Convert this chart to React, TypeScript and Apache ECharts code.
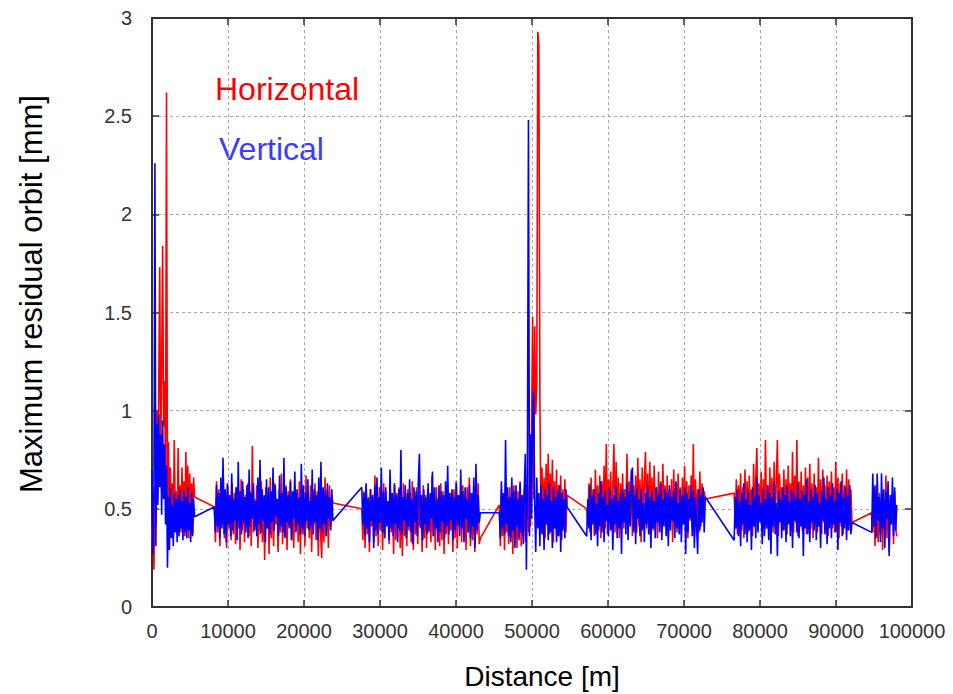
import { useEffect, useRef } from "react";
import * as echarts from "echarts";

// Distance ranges (m) covered by each group of monitors
const segStart = [0, 8200, 27600, 45700, 57200, 76600, 94700];
const segEnd = [5600, 23800, 43200, 54600, 72800, 92100, 98000];

// Horizontal (red) maximum residual orbit [mm], per group
const h1 = [0.34, 0.52, 0.19, 0.62, 0.41, 1.0, 0.55, 1.12, 1.73, 0.78, 1.21, 1.84, 0.92, 1.15, 0.68, 2.62, 0.45, 0.84, 0.39, 0.71, 0.42, 0.63, 0.36, 0.85, 0.48, 0.59, 0.37, 0.81, 0.44, 0.62, 0.38, 0.71, 0.42, 0.64, 0.36, 0.79, 0.47, 0.72, 0.35, 0.68, 0.41, 0.63, 0.37, 0.66, 0.56];
const h2 = [0.51, 0.33, 0.64, 0.38, 0.6, 0.31, 0.57, 0.42, 0.66, 0.35, 0.59, 0.3, 0.62, 0.4, 0.55, 0.34, 0.63, 0.37, 0.58, 0.32, 0.61, 0.44, 0.56, 0.29, 0.65, 0.39, 0.6, 0.33, 0.57, 0.41, 0.63, 0.36, 0.59, 0.31, 0.82, 0.38, 0.55, 0.43, 0.62, 0.3, 0.58, 0.37, 0.64, 0.33, 0.56, 0.24, 0.61, 0.4, 0.57, 0.27, 0.66, 0.35, 0.59, 0.31, 0.63, 0.42, 0.55, 0.28, 0.6, 0.38, 0.68, 0.32, 0.57, 0.36, 0.62, 0.29, 0.59, 0.41, 0.65, 0.34, 0.56, 0.3, 0.61, 0.39, 0.58, 0.33, 0.64, 0.27, 0.6, 0.37, 0.55, 0.31, 0.67, 0.4, 0.58, 0.35, 0.62, 0.28, 0.57, 0.42, 0.63, 0.34, 0.59, 0.26, 0.61, 0.38, 0.25, 0.56, 0.33, 0.66, 0.36, 0.6, 0.3, 0.62, 0.41, 0.57, 0.53];
const h3 = [0.5, 0.34, 0.59, 0.3, 0.62, 0.37, 0.56, 0.28, 0.6, 0.41, 0.55, 0.33, 0.67, 0.36, 0.58, 0.31, 0.61, 0.39, 0.57, 0.29, 0.63, 0.35, 0.59, 0.42, 0.54, 0.32, 0.6, 0.38, 0.56, 0.27, 0.62, 0.34, 0.58, 0.4, 0.61, 0.3, 0.57, 0.26, 0.63, 0.36, 0.55, 0.31, 0.6, 0.39, 0.58, 0.33, 0.64, 0.29, 0.56, 0.37, 0.61, 0.32, 0.59, 0.41, 0.55, 0.28, 0.62, 0.35, 0.57, 0.3, 0.6, 0.38, 0.54, 0.33, 0.67, 0.36, 0.58, 0.29, 0.61, 0.4, 0.56, 0.31, 0.63, 0.34, 0.59, 0.27, 0.57, 0.37, 0.62, 0.32, 0.58, 0.39, 0.55, 0.28, 0.6, 0.35, 0.64, 0.3, 0.57, 0.41, 0.59, 0.33, 0.62, 0.36, 0.56, 0.29, 0.61, 0.38, 0.66, 0.31, 0.58, 0.34, 0.6, 0.28, 0.57, 0.37, 0.63, 0.32, 0.35];
const h4 = [0.52, 0.31, 0.6, 0.36, 0.57, 0.29, 0.63, 0.38, 0.55, 0.32, 0.61, 0.35, 0.58, 0.27, 0.62, 0.37, 0.56, 0.3, 0.59, 0.34, 0.64, 0.31, 0.57, 0.36, 0.6, 0.33, 0.45, 0.62, 0.38, 0.7, 0.41, 0.92, 1.48, 0.55, 1.43, 0.98, 1.13, 2.93, 2.86, 1.05, 0.46, 0.71, 0.39, 0.66, 0.35, 0.73, 0.42, 0.78, 0.37, 0.68, 0.44, 0.75, 0.33, 0.64, 0.4, 0.7, 0.36, 0.62, 0.43, 0.67, 0.34, 0.6, 0.41, 0.65, 0.38, 0.57];
const h5 = [0.5, 0.42, 0.63, 0.38, 0.66, 0.45, 0.6, 0.36, 0.7, 0.43, 0.62, 0.39, 0.67, 0.35, 0.64, 0.44, 0.72, 0.4, 0.83, 0.37, 0.65, 0.46, 0.69, 0.41, 0.61, 0.83, 0.38, 0.74, 0.43, 0.66, 0.35, 0.63, 0.45, 0.68, 0.4, 0.6, 0.47, 0.78, 0.39, 0.64, 0.42, 0.7, 0.36, 0.62, 0.44, 0.67, 0.38, 0.76, 0.41, 0.65, 0.33, 0.71, 0.45, 0.63, 0.79, 0.4, 0.68, 0.37, 0.74, 0.43, 0.66, 0.39, 0.72, 0.46, 0.61, 0.35, 0.69, 0.42, 0.64, 0.38, 0.73, 0.44, 0.62, 0.4, 0.67, 0.36, 0.6, 0.45, 0.65, 0.33, 0.7, 0.41, 0.63, 0.38, 0.68, 0.43, 0.61, 0.37, 0.66, 0.42, 0.72, 0.39, 0.64, 0.35, 0.62, 0.44, 0.67, 0.4, 0.83, 0.36, 0.65, 0.43, 0.6, 0.38, 0.69, 0.41, 0.63, 0.46, 0.59, 0.55];
const h6 = [0.58, 0.4, 0.65, 0.37, 0.62, 0.44, 0.68, 0.39, 0.61, 0.35, 0.7, 0.42, 0.64, 0.38, 0.67, 0.45, 0.6, 0.36, 0.73, 0.41, 0.66, 0.81, 0.39, 0.63, 0.44, 0.69, 0.37, 0.65, 0.42, 0.85, 0.4, 0.62, 0.35, 0.71, 0.43, 0.66, 0.38, 0.74, 0.41, 0.64, 0.85, 0.36, 0.68, 0.44, 0.61, 0.39, 0.7, 0.42, 0.65, 0.37, 0.72, 0.45, 0.63, 0.4, 0.79, 0.38, 0.67, 0.43, 0.85, 0.36, 0.64, 0.41, 0.69, 0.39, 0.62, 0.44, 0.71, 0.37, 0.66, 0.42, 0.73, 0.4, 0.63, 0.35, 0.68, 0.45, 0.61, 0.38, 0.76, 0.41, 0.65, 0.37, 0.7, 0.43, 0.62, 0.39, 0.67, 0.36, 0.64, 0.44, 0.69, 0.4, 0.61, 0.38, 0.74, 0.42, 0.66, 0.35, 0.63, 0.41, 0.68, 0.37, 0.62, 0.43, 0.7, 0.39, 0.65, 0.42, 0.6, 0.43];
const h7 = [0.48, 0.38, 0.61, 0.31, 0.56, 0.42, 0.33, 0.58, 0.37, 0.5, 0.29, 0.55, 0.4, 0.67, 0.35, 0.6, 0.28, 0.54, 0.43, 0.57, 0.32, 0.59, 0.4, 0.36];

// Vertical (blue) maximum residual orbit [mm], per group
const v1 = [0.7, 0.27, 0.58, 2.26, 0.31, 0.93, 0.52, 0.98, 0.61, 0.88, 0.47, 0.95, 0.55, 0.83, 0.42, 0.72, 0.2, 0.56, 0.29, 0.61, 0.35, 0.52, 0.31, 0.58, 0.38, 0.55, 0.33, 0.57, 0.36, 0.6, 0.4, 0.54, 0.34, 0.59, 0.38, 0.56, 0.35, 0.61, 0.39, 0.53, 0.33, 0.58, 0.36, 0.55, 0.46];
const v2 = [0.51, 0.38, 0.62, 0.41, 0.58, 0.35, 0.66, 0.4, 0.76, 0.37, 0.6, 0.33, 0.63, 0.42, 0.57, 0.36, 0.68, 0.39, 0.55, 0.44, 0.61, 0.34, 0.74, 0.4, 0.59, 0.37, 0.64, 0.43, 0.56, 0.38, 0.62, 0.35, 0.7, 0.41, 0.58, 0.45, 0.63, 0.39, 0.54, 0.36, 0.66, 0.42, 0.75, 0.38, 0.6, 0.44, 0.57, 0.33, 0.65, 0.4, 0.61, 0.37, 0.59, 0.43, 0.71, 0.39, 0.62, 0.46, 0.55, 0.36, 0.67, 0.41, 0.58, 0.38, 0.76, 0.35, 0.61, 0.43, 0.57, 0.4, 0.64, 0.34, 0.59, 0.45, 0.69, 0.38, 0.6, 0.42, 0.56, 0.37, 0.73, 0.4, 0.62, 0.36, 0.58, 0.44, 0.65, 0.39, 0.54, 0.41, 0.7, 0.37, 0.6, 0.43, 0.57, 0.34, 0.66, 0.4, 0.74, 0.38, 0.61, 0.42, 0.59, 0.36, 0.63, 0.45, 0.56, 0.39, 0.6, 0.44];
const v3 = [0.61, 0.42, 0.58, 0.36, 0.63, 0.4, 0.55, 0.33, 0.6, 0.44, 0.57, 0.3, 0.62, 0.39, 0.66, 0.37, 0.56, 0.43, 0.71, 0.38, 0.59, 0.35, 0.61, 0.41, 0.54, 0.34, 0.7, 0.4, 0.58, 0.36, 0.63, 0.42, 0.57, 0.33, 0.6, 0.39, 0.8, 0.37, 0.56, 0.44, 0.62, 0.35, 0.58, 0.41, 0.65, 0.38, 0.55, 0.32, 0.61, 0.43, 0.59, 0.36, 0.64, 0.78, 0.4, 0.57, 0.34, 0.6, 0.42, 0.56, 0.37, 0.63, 0.39, 0.58, 0.45, 0.69, 0.36, 0.61, 0.4, 0.55, 0.33, 0.62, 0.38, 0.59, 0.43, 0.57, 0.35, 0.64, 0.41, 0.72, 0.37, 0.58, 0.44, 0.6, 0.34, 0.56, 0.39, 0.63, 0.42, 0.57, 0.36, 0.7, 0.4, 0.59, 0.33, 0.61, 0.45, 0.55, 0.38, 0.62, 0.35, 0.58, 0.41, 0.66, 0.3, 0.73, 0.39, 0.57, 0.43, 0.48];
const v4 = [0.48, 0.35, 0.64, 0.4, 0.58, 0.37, 0.85, 0.42, 0.61, 0.36, 0.56, 0.33, 0.66, 0.39, 0.59, 0.3, 0.62, 0.41, 0.55, 0.35, 0.63, 0.38, 0.57, 0.32, 0.6, 0.78, 0.19, 0.7, 2.48, 0.36, 0.88, 0.45, 0.96, 1.1, 0.52, 0.28, 0.66, 0.4, 0.58, 0.31, 0.62, 0.37, 0.55, 0.29, 0.6, 0.42, 0.57, 0.34, 0.63, 0.38, 0.54, 0.3, 0.61, 0.4, 0.56, 0.33, 0.59, 0.36, 0.62, 0.28, 0.58, 0.39, 0.55, 0.35, 0.6, 0.51];
const v5 = [0.36, 0.55, 0.4, 0.62, 0.34, 0.57, 0.42, 0.6, 0.37, 0.53, 0.31, 0.58, 0.41, 0.64, 0.38, 0.56, 0.33, 0.59, 0.44, 0.52, 0.36, 0.61, 0.39, 0.55, 0.29, 0.57, 0.42, 0.62, 0.35, 0.54, 0.4, 0.58, 0.27, 0.6, 0.43, 0.56, 0.37, 0.63, 0.34, 0.59, 0.41, 0.66, 0.71, 0.38, 0.57, 0.32, 0.61, 0.45, 0.55, 0.36, 0.6, 0.39, 0.53, 0.33, 0.58, 0.42, 0.62, 0.37, 0.56, 0.3, 0.59, 0.4, 0.54, 0.35, 0.61, 0.43, 0.57, 0.38, 0.63, 0.34, 0.55, 0.41, 0.6, 0.36, 0.58, 0.31, 0.62, 0.39, 0.56, 0.44, 0.59, 0.35, 0.64, 0.4, 0.53, 0.37, 0.6, 0.33, 0.57, 0.42, 0.61, 0.27, 0.58, 0.38, 0.55, 0.45, 0.62, 0.36, 0.59, 0.3, 0.56, 0.41, 0.27, 0.6, 0.39, 0.57, 0.43, 0.61, 0.38, 0.56];
const v6 = [0.34, 0.56, 0.4, 0.6, 0.36, 0.54, 0.31, 0.58, 0.42, 0.63, 0.37, 0.55, 0.33, 0.59, 0.39, 0.52, 0.29, 0.61, 0.41, 0.56, 0.35, 0.66, 0.38, 0.57, 0.43, 0.53, 0.32, 0.6, 0.36, 0.55, 0.4, 0.62, 0.34, 0.58, 0.27, 0.56, 0.41, 0.64, 0.37, 0.53, 0.26, 0.59, 0.43, 0.55, 0.35, 0.61, 0.39, 0.57, 0.33, 0.62, 0.42, 0.54, 0.36, 0.6, 0.3, 0.58, 0.44, 0.56, 0.38, 0.63, 0.35, 0.55, 0.41, 0.59, 0.26, 0.57, 0.4, 0.65, 0.37, 0.54, 0.33, 0.6, 0.43, 0.56, 0.39, 0.62, 0.34, 0.58, 0.41, 0.53, 0.3, 0.59, 0.44, 0.66, 0.37, 0.55, 0.32, 0.61, 0.4, 0.57, 0.35, 0.63, 0.42, 0.54, 0.38, 0.6, 0.29, 0.58, 0.43, 0.64, 0.36, 0.56, 0.4, 0.61, 0.34, 0.57, 0.39, 0.62, 0.37, 0.43];
const v7 = [0.38, 0.68, 0.41, 0.62, 0.35, 0.68, 0.44, 0.56, 0.33, 0.68, 0.4, 0.6, 0.3, 0.59, 0.45, 0.64, 0.26, 0.57, 0.42, 0.66, 0.36, 0.61, 0.39, 0.52];

const hGroups = [h1, h2, h3, h4, h5, h6, h7];
const vGroups = [v1, v2, v3, v4, v5, v6, v7];

function toPoints(groups: number[][]): [number, number][] {
  const out: [number, number][] = [];
  groups.forEach((vals, g) => {
    const a = segStart[g];
    const b = segEnd[g];
    const n = vals.length;
    vals.forEach((v, i) => {
      out.push([Math.round(a + ((b - a) * i) / (n - 1)), v]);
    });
  });
  return out;
}

const FONT = "'Liberation Sans', Arial, Helvetica, sans-serif";
const AXIS = "#333";

export default function App() {
  const ref = useRef<HTMLDivElement>(null);
  useEffect(() => {
    if (!ref.current) return;
    const chart = echarts.init(ref.current, undefined, { renderer: "svg" });
    const axisLine = { show: true, onZero: false, lineStyle: { color: AXIS, width: 2 } };
    const axisTick = { show: true, inside: true, length: 7, lineStyle: { color: AXIS, width: 1.5 } };
    const split = { show: true, lineStyle: { color: "#a8a8a8", type: [3, 3], width: 1 } };
    chart.setOption({
      animation: false,
      backgroundColor: "#ffffff",
      textStyle: { fontFamily: FONT },
      grid: { left: 152, right: 41, top: 18, bottom: 87 },
      xAxis: [
        {
          type: "value",
          position: "bottom",
          min: 0,
          max: 100000,
          interval: 10000,
          axisLine,
          axisTick,
          axisLabel: { fontSize: 20, color: AXIS, margin: 14, fontFamily: FONT, formatter: (v: number) => String(v) },
          splitLine: split,
        },
        {
          type: "value",
          position: "top",
          min: 0,
          max: 100000,
          interval: 10000,
          axisLine,
          axisTick,
          axisLabel: { show: false },
          splitLine: { show: false },
        },
      ],
      yAxis: [
        {
          type: "value",
          position: "left",
          min: 0,
          max: 3,
          interval: 0.5,
          axisLine,
          axisTick,
          axisLabel: { fontSize: 20, color: AXIS, margin: 20, fontFamily: FONT },
          splitLine: split,
        },
        {
          type: "value",
          position: "right",
          min: 0,
          max: 3,
          interval: 0.5,
          axisLine,
          axisTick,
          axisLabel: { show: false },
          splitLine: { show: false },
        },
      ],
      series: [
        {
          name: "Horizontal",
          type: "line",
          xAxisIndex: 0,
          yAxisIndex: 0,
          data: toPoints(hGroups),
          showSymbol: false,
          symbol: "none",
          lineStyle: { color: "#ff0000", width: 1.6 },
          itemStyle: { color: "#ff0000" },
          z: 2,
          silent: true,
        },
        {
          name: "Vertical",
          type: "line",
          xAxisIndex: 0,
          yAxisIndex: 0,
          data: toPoints(vGroups),
          showSymbol: false,
          symbol: "none",
          lineStyle: { color: "#0000ff", width: 1.6 },
          itemStyle: { color: "#0000ff" },
          z: 3,
          silent: true,
        },
      ],
      graphic: [
        {
          type: "text",
          x: 215,
          y: 88.5,
          style: { text: "Horizontal", fill: "#ff0000", fontSize: 32, fontFamily: FONT, textAlign: "left", textVerticalAlign: "middle" },
        },
        {
          type: "text",
          x: 219,
          y: 148.5,
          style: { text: "Vertical", fill: "#3b3bff", fontSize: 32, fontFamily: FONT, textAlign: "left", textVerticalAlign: "middle" },
        },
        {
          type: "text",
          x: 31,
          y: 294,
          rotation: Math.PI / 2,
          style: { text: "Maximum residual orbit [mm]", fill: "#000", fontSize: 31, fontFamily: FONT, textAlign: "center", textVerticalAlign: "middle" },
        },
        {
          type: "text",
          x: 542,
          y: 676,
          style: { text: "Distance [m]", fill: "#000", fontSize: 28, fontFamily: FONT, textAlign: "center", textVerticalAlign: "middle" },
        },
      ],
    });
    return () => chart.dispose();
  }, []);
  return (
    <div
      ref={ref}
      style={{ position: "fixed", left: 0, top: 0, width: 953, height: 694, background: "#fff" }}
    />
  );
}
